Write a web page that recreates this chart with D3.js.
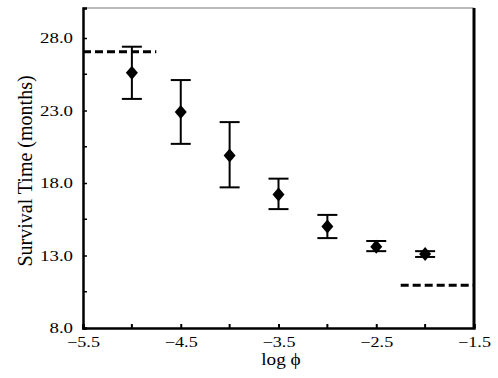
<!DOCTYPE html>
<html>
<head>
<meta charset="utf-8">
<script src="https://cdn.jsdelivr.net/npm/d3@7"></script>
<style>
  body { margin: 0; background: #fff; }
  text { font-family: "Liberation Serif", "DejaVu Serif", serif; }
</style>
</head>
<body>
<div id="chart"></div>
<script>
const svgWidth = 498;
const svgHeight = 378;
const margin = { top: 8, right: 24, bottom: 50, left: 83 };

// data
const logPhi = [-5, -4.5, -4, -3.5, -3, -2.5, -2];
const survival = [25.6, 22.9, 19.9, 17.2, 15.0, 13.6, 13.1];
const errUpper = [27.4, 25.1, 22.2, 18.3, 15.8, 14.0, 13.3];
const errLower = [23.8, 20.7, 17.7, 16.2, 14.2, 13.3, 12.9];
const limitLines = [
  { x0: -5.5, x1: -4.75, y: 27.05 },
  { x0: -2.25, x1: -1.5, y: 10.95 }
];
const xTicks = [-5.5, -4.5, -3.5, -2.5, -1.5];
const xMinor = [-5, -4, -3, -2];
const yTicks = [8, 13, 18, 23, 28];
const yMinor = [10.5, 15.5, 20.5, 25.5];

const data = logPhi.map((x, i) => ({ x, y: survival[i], hi: errUpper[i], lo: errLower[i] }));

const svg = d3.select("#chart")
  .append("svg")
  .attr("width", svgWidth)
  .attr("height", svgHeight);

const x = d3.scaleLinear()
  .domain([-5.5, -1.5])
  .range([margin.left, svgWidth - margin.right]);

const y = d3.scaleLinear()
  .domain([8, 30.07])
  .range([svgHeight - margin.bottom, margin.top]);

const x0 = x.range()[0], x1 = x.range()[1];
const y0 = y.range()[0], y1 = y.range()[1];

// frame: thin grey top, thick black right
svg.append("line")
  .attr("x1", x0).attr("x2", x1).attr("y1", y1).attr("y2", y1)
  .attr("stroke", "#777").attr("stroke-width", 1.2);
svg.append("line")
  .attr("x1", x1).attr("x2", x1).attr("y1", y1).attr("y2", y0)
  .attr("stroke", "#000").attr("stroke-width", 3);

// the original's labels are horizontally stretched
const xStretch = 1.25, yStretch = 1.3;

const xAxis = svg.append("g")
  .attr("transform", `translate(0, ${y0})`)
  .call(d3.axisBottom(x).tickValues(xTicks).tickSize(-4).tickPadding(9)
    .tickFormat(d => d3.format(".1f")(d).replace("-", "\u2212")));
xAxis.select(".domain").attr("stroke-width", 2.5);
xAxis.selectAll(".tick line").attr("stroke-width", 2);
xAxis.selectAll(".tick text")
  .attr("font-size", 14.5).attr("fill", "#000")
  .attr("transform", `scale(${xStretch},1)`);
xAxis.selectAll(".minor").data(xMinor).join("line")
  .attr("class", "minor")
  .attr("x1", d => x(d)).attr("x2", d => x(d))
  .attr("y1", 0).attr("y2", -4)
  .attr("stroke", "#000").attr("stroke-width", 2);

const yAxis = svg.append("g")
  .attr("transform", `translate(${x0}, 0)`)
  .call(d3.axisLeft(y).tickValues(yTicks).tickSize(-4)
    .tickFormat(d3.format(".1f")));
yAxis.select(".domain").attr("stroke-width", 2.5);
yAxis.selectAll(".tick line").attr("stroke-width", 1.5);
yAxis.selectAll(".tick text")
  .attr("font-size", 14.5).attr("fill", "#000")
  .attr("x", -10 / yStretch)
  .attr("transform", `scale(${yStretch},1)`);
yAxis.selectAll(".minor").data(yMinor).join("line")
  .attr("class", "minor")
  .attr("x1", 0).attr("x2", 4)
  .attr("y1", d => y(d)).attr("y2", d => y(d))
  .attr("stroke", "#000").attr("stroke-width", 1.5);

// dashed limit lines
svg.selectAll(".limit").data(limitLines).join("line")
  .attr("class", "limit")
  .attr("x1", d => x(d.x0)).attr("x2", d => x(d.x1))
  .attr("y1", d => y(d.y)).attr("y2", d => y(d.y))
  .attr("stroke", "#000").attr("stroke-width", 3)
  .attr("stroke-dasharray", "8,4");

// error bars
const capW = 10;
const bars = svg.selectAll(".err").data(data).join("g").attr("class", "err");
bars.append("line")
  .attr("x1", d => x(d.x)).attr("x2", d => x(d.x))
  .attr("y1", d => y(d.hi)).attr("y2", d => y(d.lo))
  .attr("stroke", "#000").attr("stroke-width", 2);
bars.append("line")
  .attr("x1", d => x(d.x) - capW).attr("x2", d => x(d.x) + capW)
  .attr("y1", d => y(d.hi)).attr("y2", d => y(d.hi))
  .attr("stroke", "#000").attr("stroke-width", 2);
bars.append("line")
  .attr("x1", d => x(d.x) - capW).attr("x2", d => x(d.x) + capW)
  .attr("y1", d => y(d.lo)).attr("y2", d => y(d.lo))
  .attr("stroke", "#000").attr("stroke-width", 2);

// diamond markers
svg.selectAll(".pt").data(data).join("path")
  .attr("class", "pt")
  .attr("d", "M0,-7L6,0L0,7L-6,0Z")
  .attr("transform", d => `translate(${x(d.x)}, ${y(d.y)})`)
  .attr("fill", "#000");

// axis titles
svg.append("text")
  .attr("transform", `translate(281, 365) scale(1.2,1)`)
  .attr("text-anchor", "middle")
  .attr("font-size", 16)
  .text("log \u03D5");

svg.append("text")
  .attr("transform", `translate(32, 171) rotate(-90)`)
  .attr("text-anchor", "middle")
  .attr("font-size", 20)
  .text("Survival Time (months)");
</script>
</body>
</html>
